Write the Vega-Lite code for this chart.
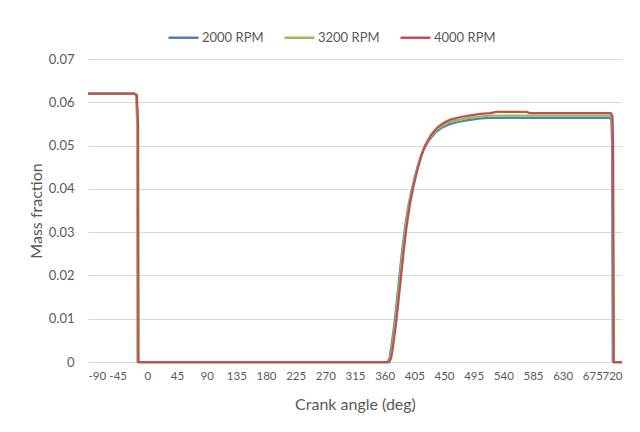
{
  "$schema": "https://vega.github.io/schema/vega-lite/v6.json",
  "width": 534,
  "height": 303,
  "autosize": {"type": "none"},
  "padding": {"left": 88, "top": 59, "right": 18, "bottom": 70},
  "background": "#ffffff",
  "config": {
    "view": {"stroke": null},
    "font": "Lato"
  },
  "data": {
    "values": [
      {"series": "2000 RPM", "angle": -90, "mass": 0.062},
      {"series": "2000 RPM", "angle": -20, "mass": 0.062},
      {"series": "2000 RPM", "angle": -16.5, "mass": 0.0617},
      {"series": "2000 RPM", "angle": -14.5, "mass": 0.055},
      {"series": "2000 RPM", "angle": -14, "mass": 0},
      {"series": "2000 RPM", "angle": 364.5, "mass": 0},
      {"series": "2000 RPM", "angle": 367.5, "mass": 0.001},
      {"series": "2000 RPM", "angle": 370.5, "mass": 0.004},
      {"series": "2000 RPM", "angle": 374.5, "mass": 0.0085},
      {"series": "2000 RPM", "angle": 378.5, "mass": 0.0142},
      {"series": "2000 RPM", "angle": 382.5, "mass": 0.02},
      {"series": "2000 RPM", "angle": 386.5, "mass": 0.0257},
      {"series": "2000 RPM", "angle": 390.5, "mass": 0.0307},
      {"series": "2000 RPM", "angle": 395.5, "mass": 0.0357},
      {"series": "2000 RPM", "angle": 401.5, "mass": 0.0401},
      {"series": "2000 RPM", "angle": 407.5, "mass": 0.0438},
      {"series": "2000 RPM", "angle": 413.5, "mass": 0.0469},
      {"series": "2000 RPM", "angle": 419.5, "mass": 0.0492},
      {"series": "2000 RPM", "angle": 427.5, "mass": 0.0513},
      {"series": "2000 RPM", "angle": 437.5, "mass": 0.0531},
      {"series": "2000 RPM", "angle": 447.5, "mass": 0.0542},
      {"series": "2000 RPM", "angle": 457.5, "mass": 0.0549},
      {"series": "2000 RPM", "angle": 472.5, "mass": 0.0555},
      {"series": "2000 RPM", "angle": 487.5, "mass": 0.0559},
      {"series": "2000 RPM", "angle": 502.5, "mass": 0.0562},
      {"series": "2000 RPM", "angle": 517.5, "mass": 0.0564},
      {"series": "2000 RPM", "angle": 702, "mass": 0.0564},
      {"series": "2000 RPM", "angle": 704, "mass": 0.0557},
      {"series": "2000 RPM", "angle": 705, "mass": 0.05},
      {"series": "2000 RPM", "angle": 706, "mass": 0},
      {"series": "2000 RPM", "angle": 720, "mass": 0},
      {"series": "3200 RPM", "angle": -90, "mass": 0.062},
      {"series": "3200 RPM", "angle": -20, "mass": 0.062},
      {"series": "3200 RPM", "angle": -17, "mass": 0.0617},
      {"series": "3200 RPM", "angle": -15.5, "mass": 0.055},
      {"series": "3200 RPM", "angle": -15, "mass": 0},
      {"series": "3200 RPM", "angle": 365.5, "mass": 0},
      {"series": "3200 RPM", "angle": 368.5, "mass": 0.001},
      {"series": "3200 RPM", "angle": 371.5, "mass": 0.004},
      {"series": "3200 RPM", "angle": 375.5, "mass": 0.0085},
      {"series": "3200 RPM", "angle": 379.5, "mass": 0.0142},
      {"series": "3200 RPM", "angle": 383.5, "mass": 0.02},
      {"series": "3200 RPM", "angle": 387.5, "mass": 0.0258},
      {"series": "3200 RPM", "angle": 391.5, "mass": 0.0309},
      {"series": "3200 RPM", "angle": 396.5, "mass": 0.036},
      {"series": "3200 RPM", "angle": 402.5, "mass": 0.0405},
      {"series": "3200 RPM", "angle": 408.5, "mass": 0.0442},
      {"series": "3200 RPM", "angle": 414.5, "mass": 0.0473},
      {"series": "3200 RPM", "angle": 420.5, "mass": 0.0497},
      {"series": "3200 RPM", "angle": 428.5, "mass": 0.0518},
      {"series": "3200 RPM", "angle": 438.5, "mass": 0.0536},
      {"series": "3200 RPM", "angle": 448.5, "mass": 0.0547},
      {"series": "3200 RPM", "angle": 458.5, "mass": 0.0554},
      {"series": "3200 RPM", "angle": 473.5, "mass": 0.056},
      {"series": "3200 RPM", "angle": 488.5, "mass": 0.0564},
      {"series": "3200 RPM", "angle": 503.5, "mass": 0.0567},
      {"series": "3200 RPM", "angle": 518.5, "mass": 0.0569},
      {"series": "3200 RPM", "angle": 703, "mass": 0.0569},
      {"series": "3200 RPM", "angle": 705, "mass": 0.0562},
      {"series": "3200 RPM", "angle": 706, "mass": 0.05},
      {"series": "3200 RPM", "angle": 707, "mass": 0},
      {"series": "3200 RPM", "angle": 720, "mass": 0},
      {"series": "4000 RPM", "angle": -90, "mass": 0.062},
      {"series": "4000 RPM", "angle": -20, "mass": 0.062},
      {"series": "4000 RPM", "angle": -16, "mass": 0.0617},
      {"series": "4000 RPM", "angle": -14, "mass": 0.055},
      {"series": "4000 RPM", "angle": -13.5, "mass": 0},
      {"series": "4000 RPM", "angle": 367, "mass": 0},
      {"series": "4000 RPM", "angle": 370, "mass": 0.001},
      {"series": "4000 RPM", "angle": 373, "mass": 0.004},
      {"series": "4000 RPM", "angle": 377, "mass": 0.0085},
      {"series": "4000 RPM", "angle": 381, "mass": 0.0142},
      {"series": "4000 RPM", "angle": 385, "mass": 0.02},
      {"series": "4000 RPM", "angle": 389, "mass": 0.0258},
      {"series": "4000 RPM", "angle": 393, "mass": 0.031},
      {"series": "4000 RPM", "angle": 398, "mass": 0.0362},
      {"series": "4000 RPM", "angle": 404, "mass": 0.0408},
      {"series": "4000 RPM", "angle": 410, "mass": 0.0446},
      {"series": "4000 RPM", "angle": 416, "mass": 0.0478},
      {"series": "4000 RPM", "angle": 422, "mass": 0.0502},
      {"series": "4000 RPM", "angle": 430, "mass": 0.0524},
      {"series": "4000 RPM", "angle": 440, "mass": 0.0542},
      {"series": "4000 RPM", "angle": 450, "mass": 0.0553},
      {"series": "4000 RPM", "angle": 460, "mass": 0.056},
      {"series": "4000 RPM", "angle": 475, "mass": 0.0566},
      {"series": "4000 RPM", "angle": 490, "mass": 0.057},
      {"series": "4000 RPM", "angle": 505, "mass": 0.0573},
      {"series": "4000 RPM", "angle": 520, "mass": 0.0575},
      {"series": "4000 RPM", "angle": 530, "mass": 0.0578},
      {"series": "4000 RPM", "angle": 575, "mass": 0.0578},
      {"series": "4000 RPM", "angle": 580, "mass": 0.0575},
      {"series": "4000 RPM", "angle": 703, "mass": 0.0575},
      {"series": "4000 RPM", "angle": 705.5, "mass": 0.0568},
      {"series": "4000 RPM", "angle": 706.5, "mass": 0.05},
      {"series": "4000 RPM", "angle": 707.5, "mass": 0},
      {"series": "4000 RPM", "angle": 720, "mass": 0}
    ]
  },
  "mark": {"type": "line", "strokeWidth": 2.25, "strokeJoin": "round", "clip": false},
  "encoding": {
    "x": {
      "field": "angle",
      "type": "quantitative",
      "scale": {"domain": [-90, 720], "nice": false, "zero": false},
      "axis": {
        "values": [-90, -45, 0, 45, 90, 135, 180, 225, 270, 315, 360, 405, 450, 495, 540, 585, 630, 675, 720],
        "labelExpr": "'' + datum.value",
        "labelOverlap": false,
        "labelBound": false,
        "grid": false,
        "domain": false,
        "ticks": false,
        "labelPadding": 8,
        "labelFontSize": 11.5,
        "labelColor": "#595959",
        "labelFont": "Lato",
        "title": "Crank angle (deg)",
        "titleFontSize": 16,
        "titleFontWeight": "normal",
        "titleColor": "#595959",
        "titleFont": "Lato",
        "titlePadding": 15
      }
    },
    "y": {
      "field": "mass",
      "type": "quantitative",
      "scale": {"domain": [0, 0.07], "nice": false},
      "axis": {
        "values": [0, 0.01, 0.02, 0.03, 0.04, 0.05, 0.06, 0.07],
        "labelExpr": "datum.value == 0 ? '0' : format(datum.value, '.2f')",
        "labelOverlap": false,
        "grid": true,
        "gridColor": "#d9d9d9",
        "gridWidth": 1,
        "domain": false,
        "ticks": false,
        "labelPadding": 14,
        "labelFontSize": 13,
        "labelColor": "#595959",
        "labelFont": "Lato",
        "title": "Mass fraction",
        "titleFontSize": 16,
        "titleFontWeight": "normal",
        "titleColor": "#595959",
        "titleFont": "Lato",
        "titlePadding": 4
      }
    },
    "color": {
      "field": "series",
      "type": "nominal",
      "scale": {
        "domain": ["2000 RPM", "3200 RPM", "4000 RPM"],
        "range": ["#4F81BD", "#9BBB59", "#C0504D"]
      },
      "legend": {
        "title": null,
        "orient": "none",
        "direction": "horizontal",
        "legendX": 79,
        "legendY": -38,
        "symbolType": "stroke",
        "symbolSize": 900,
        "symbolStrokeWidth": 2.5,
        "labelFontSize": 13,
        "labelColor": "#595959",
        "labelFont": "Lato",
        "labelOffset": 2,
        "columnPadding": 15
      }
    }
  }
}
